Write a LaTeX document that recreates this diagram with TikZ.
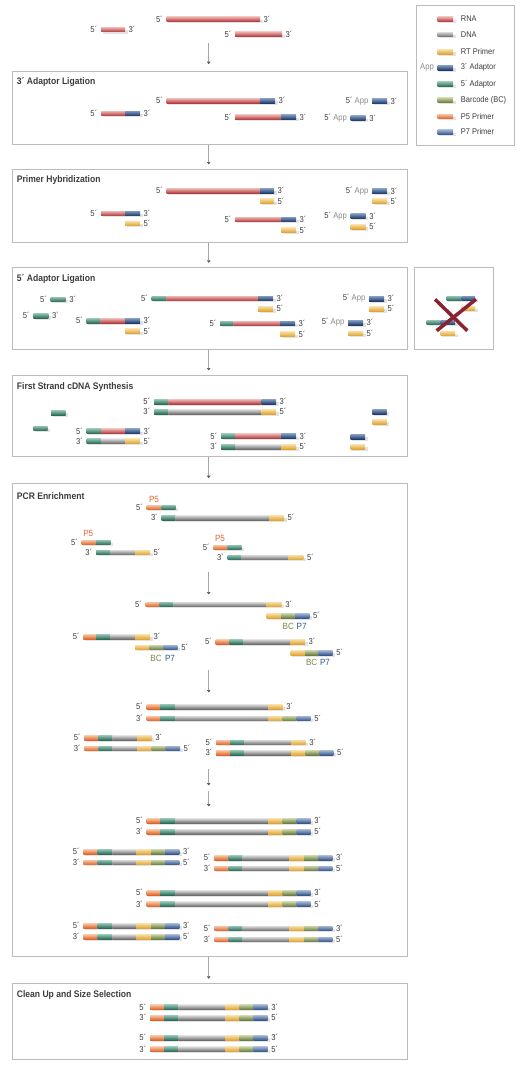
\documentclass[tikz,border=0pt]{standalone}
\usepackage{fontspec}
\setmainfont{Liberation Sans}[FakeStretch=0.9]
\usetikzlibrary{arrows.meta}

\definecolor{Lrna}{HTML}{EEB4B0}
\definecolor{Drna}{HTML}{B13C40}
\definecolor{Ldna}{HTML}{DADADA}
\definecolor{Ddna}{HTML}{6E6E6E}
\definecolor{Lrt}{HTML}{F7DEA2}
\definecolor{Drt}{HTML}{E0A535}
\definecolor{Lad3}{HTML}{7E98BE}
\definecolor{Dad3}{HTML}{1E3C6A}
\definecolor{Lad5}{HTML}{8FC2B0}
\definecolor{Dad5}{HTML}{2C6B58}
\definecolor{Lbc}{HTML}{C8D2A2}
\definecolor{Dbc}{HTML}{6C7E45}
\definecolor{Lp5}{HTML}{F8C3A2}
\definecolor{Dp5}{HTML}{DC662C}
\definecolor{Lp7}{HTML}{A0B4D2}
\definecolor{Dp7}{HTML}{37578A}
\definecolor{boxc}{HTML}{BBBBBB}
\definecolor{ink}{HTML}{3C3C3C}
\definecolor{appc}{HTML}{8A8A8A}
\definecolor{p5t}{HTML}{E06A2E}
\definecolor{bct}{HTML}{7A8B45}
\definecolor{p7t}{HTML}{2E5A8C}
\definecolor{crossc}{HTML}{8A2232}

\tikzset{
  stage/.style={draw=boxc, line width=0.8pt, fill=white, anchor=north west, inner sep=0pt},
  title/.style={anchor=west, inner sep=0pt, text=ink, font=\bfseries\fontsize{9.5}{11}\selectfont},
  lbl/.style={inner sep=1pt, text=ink, font=\fontsize{8.5}{10}\selectfont},
  legtext/.style={anchor=west, inner sep=0pt, text=ink, font=\fontsize{8.3}{10}\selectfont},
  tag/.style={inner sep=0pt, font=\fontsize{9}{10}\selectfont},
  flow/.style={draw=black!35, line width=1.1pt, -{Triangle[length=2.5pt,width=3.5pt,color=black!65]}, shorten >=4.5pt},
  shadowc/.style={fill=black!11},
  cross/.style={draw=crossc, line width=3.5pt}
}

\newcounter{sn}
% #1 y, #2 left label, #3 start x, #4 colour/end list, #5 right label
\newcommand{\strand}[5]{%
  \stepcounter{sn}%
  \xdef\sx{#3}%
  \foreach \c/\e in {#4}{%
    \fill[shadowc] (\sx+1.5,#1+0.6) rectangle (\e+2.5,#1+4);
    \shade[top color=L\c, bottom color=D\c] (\sx,#1-2.3) rectangle (\e,#1+2.3);
    \xdef\sx{\e}}%
  \if\relax\detokenize{#2}\relax\else
    \node[lbl, anchor=east] (s\arabic{sn}l) at (#3-2.5,#1) {#2};\fi
  \if\relax\detokenize{#5}\relax\else
    \node[lbl, anchor=west] (s\arabic{sn}r) at (\sx+2.5,#1) {#5};\fi}

\begin{document}
\begin{tikzpicture}[x=1pt, y=-1pt]
  \useasboundingbox (0,0) rectangle (525,1074);

  % boxes
  \node[stage, minimum width=98.3pt, minimum height=140pt] (legend) at (416,5) {};
  \node[stage, minimum width=395pt, minimum height=73.3pt] (lig3) at (11.7,70.7) {};
  \node[stage, minimum width=395pt, minimum height=72.7pt] (hyb) at (11.7,169) {};
  \node[stage, minimum width=395pt, minimum height=81.7pt] (lig5) at (11.7,267.3) {};
  \node[stage, minimum width=79pt, minimum height=81.7pt] (nolig) at (414.3,267.3) {};
  \node[stage, minimum width=395pt, minimum height=81pt] (cdna) at (11.7,375) {};
  \node[stage, minimum width=395pt, minimum height=473.3pt] (pcr) at (11.7,482.7) {};
  \node[stage, minimum width=395pt, minimum height=75.7pt] (clean) at (11.7,983.3) {};

  \node[title] (tlig3) at ([xshift=5pt,yshift=-11pt]lig3.north west) {3´ Adaptor Ligation};
  \node[title] (thyb) at ([xshift=5pt,yshift=-11pt]hyb.north west) {Primer Hybridization};
  \node[title] (tlig5) at ([xshift=5pt,yshift=-12pt]lig5.north west) {5´ Adaptor Ligation};
  \node[title] (tcdna) at ([xshift=5pt,yshift=-12pt]cdna.north west) {First Strand cDNA Synthesis};
  \node[title] (tpcr) at ([xshift=5pt,yshift=-13pt]pcr.north west) {PCR Enrichment};
  \node[title] (tclean) at ([xshift=5pt,yshift=-12pt]clean.north west) {Clean Up and Size Selection};

  % arrows
  \coordinate (ax) at (208.7,0);
  \coordinate (a0) at (208.7,43);
  \draw[flow, shorten >=6.5pt] (a0) -- (lig3.north -| ax);
  \draw[flow] (lig3.south -| ax) -- (hyb.north -| ax);
  \draw[flow] (hyb.south -| ax) -- (lig5.north -| ax);
  \draw[flow] (lig5.south -| ax) -- (cdna.north -| ax);
  \draw[flow] (cdna.south -| ax) -- (pcr.north -| ax);
  \draw[flow] (pcr.south -| ax) -- (clean.north -| ax);
  \coordinate (c1) at (208.7,571.7);
  \coordinate (c2) at (208.7,599);
  \coordinate (c3) at (208.7,670);
  \coordinate (c4) at (208.7,697);
  \coordinate (c5) at (208.7,769.3);
  \coordinate (c6) at (208.7,790);
  \coordinate (c7) at (208.7,791);
  \coordinate (c8) at (208.7,811);
  \draw[flow] (c1) -- (c2);
  \draw[flow] (c3) -- (c4);
  \draw[flow] (c5) -- (c6);
  \draw[flow] (c7) -- (c8);

  % legend
  \foreach \k/\t/\y [count=\i] in {rna/RNA/19, dna/DNA/34.3, rt/RT Primer/51.7,
      ad3/3´ Adaptor/67.7, ad5/5´ Adaptor/84, bc/Barcode (BC)/100,
      p5/P5 Primer/116.3, p7/P7 Primer/132}{
    \strand{\y}{}{437.7}{\k/453}{}
    \node[legtext] (leg\i) at (460.7,\y) {\t};
  }
  \node[lbl, text=appc] (legapp) at (427,67.7) {App};

  % RNA
  \strand{19}{5´}{166.7}{rna/260}{3´}
  \strand{29.5}{5´}{101}{rna/125}{3´}
  \strand{34}{5´}{235}{rna/282}{3´}

  % 3' adaptor ligation
  \strand{100.7}{5´}{166.7}{rna/260,ad3/275}{3´}
  \strand{113.3}{5´}{101}{rna/125,ad3/140}{3´}
  \strand{117}{5´}{235}{rna/281,ad3/296}{3´}
  \strand{101}{5´ \textcolor{appc}{App}}{372}{ad3/387}{3´}
  \strand{118}{5´ \textcolor{appc}{App}}{350.7}{ad3/365.7}{3´}

  % primer hybridization
  \strand{190.7}{5´}{166.7}{rna/260,ad3/274}{3´}
  \strand{201}{}{260}{rt/274}{5´}
  \strand{213.3}{5´}{101}{rna/125,ad3/140}{3´}
  \strand{223.3}{}{125}{rt/140}{5´}
  \strand{219.3}{5´}{235}{rna/281,ad3/296}{3´}
  \strand{230}{}{281}{rt/296}{5´}
  \strand{191}{5´ \textcolor{appc}{App}}{372}{ad3/387}{3´}
  \strand{201}{}{372}{rt/387}{5´}
  \strand{216}{5´ \textcolor{appc}{App}}{350.7}{ad3/365.7}{3´}
  \strand{226.7}{}{350.7}{rt/365.7}{5´}

  % 5' adaptor ligation
  \strand{299.3}{5´}{50.7}{ad5/65.7}{3´}
  \strand{315.7}{5´}{33.3}{ad5/48.3}{3´}
  \strand{298.3}{5´}{151.7}{ad5/166.7,rna/258,ad3/273}{3´}
  \strand{308.7}{}{258}{rt/273}{5´}
  \strand{320.7}{5´}{86.7}{ad5/100.7,rna/125,ad3/140}{3´}
  \strand{331}{}{125}{rt/140}{5´}
  \strand{323.3}{5´}{220}{ad5/233.3,rna/280,ad3/295}{3´}
  \strand{334}{}{280}{rt/295}{5´}
  \strand{298.7}{5´ \textcolor{appc}{App}}{369}{ad3/384}{3´}
  \strand{308.7}{}{369}{rt/384}{5´}
  \strand{322.7}{5´ \textcolor{appc}{App}}{348}{ad3/363}{3´}
  \strand{333.3}{}{348}{rt/363}{5´}
  % adaptor dimers, crossed out
  \strand{298.3}{}{446.7}{ad5/461.7,ad3/475}{}
  \strand{308.3}{}{461.7}{rt/475}{}
  \strand{322.3}{}{426.7}{ad5/440.7,ad3/455}{}
  \strand{333.3}{}{440.7}{rt/455}{}
  \coordinate (x1) at (435,299.3);
  \coordinate (x2) at (467.3,330.7);
  \coordinate (x3) at (476,299.3);
  \coordinate (x4) at (436.7,330.7);
  \draw[cross] (x1) -- (x2);
  \draw[cross] (x3) -- (x4);

  % first strand cDNA synthesis
  \strand{401.7}{5´}{154}{ad5/168.3,rna/261.7,ad3/276}{3´}
  \strand{411.7}{3´}{154}{ad5/168.3,dna/261.7,rt/276}{5´}
  \strand{412.7}{}{51}{ad5/65.7}{}
  \strand{428.3}{}{33.3}{ad5/47.7}{}
  \strand{431}{5´}{86.7}{ad5/101,rna/125,ad3/140}{3´}
  \strand{441}{3´}{86.7}{ad5/101,dna/125,rt/140}{5´}
  \strand{436}{5´}{221}{ad5/235,rna/281,ad3/296}{3´}
  \strand{446.7}{3´}{221}{ad5/235,dna/281,rt/296}{5´}
  \strand{411.7}{}{372.3}{ad3/386.7}{}
  \strand{421.7}{}{372.3}{rt/386.7}{}
  \strand{436.7}{}{350.7}{ad3/365}{}
  \strand{446.7}{}{350.7}{rt/365}{}

  % PCR enrichment
  \node[tag, text=p5t] (p5a) at (154,499.3) {P5};
  \node[tag, text=p5t] (p5b) at (88.3,533.3) {P5};
  \node[tag, text=p5t] (p5c) at (220,538.3) {P5};
  \strand{507.3}{5´}{146.7}{p5/161.7,ad5/175.7}{}
  \strand{517.7}{3´}{161.7}{ad5/175.7,dna/269.3,rt/284}{5´}
  \strand{542.3}{5´}{81.7}{p5/96,ad5/110.7}{}
  \strand{552.3}{3´}{96}{ad5/110,dna/135,rt/150}{5´}
  \strand{547.3}{5´}{213.3}{p5/227.7,ad5/241.7}{}
  \strand{557.3}{3´}{227.7}{ad5/241.7,dna/288.3,rt/303.3}{5´}

  \strand{604.3}{5´}{145.7}{p5/159.3,ad5/173.3,dna/266.7,rt/281.7}{3´}
  \strand{615.7}{}{266.7}{rt/281,bc/295,p7/309.3}{5´}
  \node[tag, text=bct] (bca) at (288.3,626) {BC};
  \node[tag, text=p7t] (p7a) at (301.7,626) {P7};
  \strand{636.7}{5´}{83.3}{p5/96,ad5/110,dna/135,rt/150}{3´}
  \strand{647.3}{}{135}{rt/149.3,bc/163.3,p7/177.7}{5´}
  \node[tag, text=bct] (bcb) at (156,658.3) {BC};
  \node[tag, text=p7t] (p7b) at (170,658.3) {P7};
  \strand{641.7}{5´}{215.7}{p5/229.3,ad5/243.3,dna/290,rt/305}{3´}
  \strand{652.7}{}{290.7}{rt/305,bc/318.3,p7/332.7}{5´}
  \node[tag, text=bct] (bcc) at (311.7,662.7) {BC};
  \node[tag, text=p7t] (p7c) at (325,662.7) {P7};

  \strand{706.7}{5´}{146.7}{p5/160,ad5/175,dna/268.3,rt/282.7}{3´}
  \strand{718.3}{3´}{146.7}{p5/160,ad5/175,dna/268.3,rt/282.7,bc/296.7,p7/310.7}{5´}
  \strand{737.7}{5´}{84.3}{p5/98.3,ad5/112.7,dna/137.3,rt/151.7}{3´}
  \strand{748.3}{3´}{84.3}{p5/98.3,ad5/112.7,dna/137.3,rt/151.7,bc/165.7,p7/180}{5´}
  \strand{742.3}{5´}{216}{p5/230,ad5/244,dna/291,rt/305.7}{3´}
  \strand{752.7}{3´}{216}{p5/230,ad5/244,dna/291,rt/305.7,bc/319.3,p7/333.3}{5´}

  \strand{820.7}{5´}{146.7}{p5/160,ad5/175,dna/268.3,rt/282.7,bc/296.7,p7/310.7}{3´}
  \strand{831.7}{3´}{146.7}{p5/160,ad5/175,dna/268.3,rt/282.7,bc/296.7,p7/310.7}{5´}
  \strand{851.7}{5´}{83.3}{p5/97.7,ad5/112.3,dna/136.7,rt/151,bc/165,p7/179.3}{3´}
  \strand{862.3}{3´}{83.3}{p5/97.7,ad5/112.3,dna/136.7,rt/151,bc/165,p7/179.3}{5´}
  \strand{857.7}{5´}{214.3}{p5/228.7,ad5/242.7,dna/289.3,rt/304,bc/318.3,p7/332.3}{3´}
  \strand{868.3}{3´}{214.3}{p5/228.7,ad5/242.7,dna/289.3,rt/304,bc/318.3,p7/332.3}{5´}
  \strand{892.7}{5´}{146.7}{p5/160,ad5/175,dna/268.3,rt/282.7,bc/296.7,p7/310.7}{3´}
  \strand{904}{3´}{146.7}{p5/160,ad5/175,dna/268.3,rt/282.7,bc/296.7,p7/310.7}{5´}
  \strand{925.7}{5´}{83.3}{p5/97.7,ad5/112.3,dna/136.7,rt/151,bc/165,p7/179.3}{3´}
  \strand{936.7}{3´}{83.3}{p5/97.7,ad5/112.3,dna/136.7,rt/151,bc/165,p7/179.3}{5´}
  \strand{928.3}{5´}{214.3}{p5/228.7,ad5/242.7,dna/289.3,rt/304,bc/318.3,p7/332.3}{3´}
  \strand{939.3}{3´}{214.3}{p5/228.7,ad5/242.7,dna/289.3,rt/304,bc/318.3,p7/332.3}{5´}

  % clean up and size selection
  \strand{1007}{5´}{150}{p5/164,ad5/178.3,dna/225.7,rt/239.3,bc/253.3,p7/267.7}{3´}
  \strand{1017.7}{3´}{150}{p5/164,ad5/178.3,dna/225.7,rt/239.3,bc/253.3,p7/267.7}{5´}
  \strand{1037.7}{5´}{150}{p5/164,ad5/178.3,dna/225.7,rt/239.3,bc/253.3,p7/267.7}{3´}
  \strand{1049}{3´}{150}{p5/164,ad5/178.3,dna/225.7,rt/239.3,bc/253.3,p7/267.7}{5´}
\end{tikzpicture}
\end{document}
